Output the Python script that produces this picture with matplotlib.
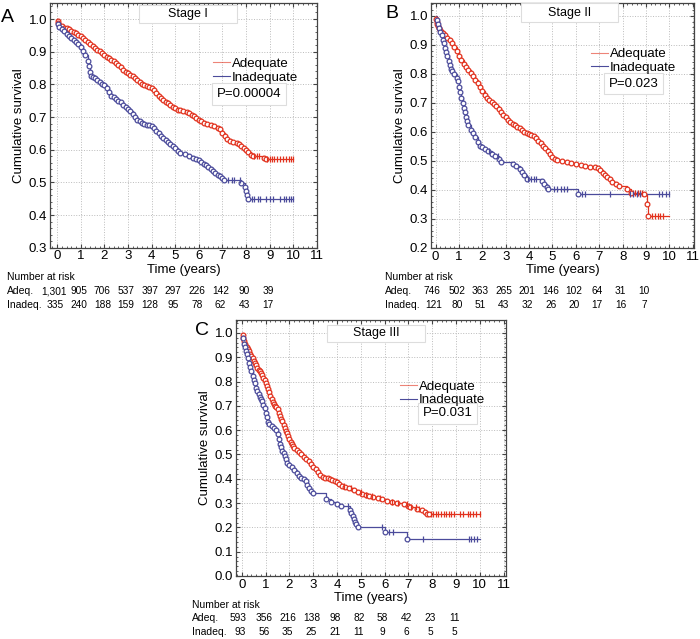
import numpy as np
import matplotlib.pyplot as plt
import matplotlib.transforms as mtransforms
from matplotlib.lines import Line2D
from matplotlib.patches import Rectangle
from matplotlib.ticker import MultipleLocator, AutoMinorLocator

plt.rcParams['font.family'] = ['Liberation Sans', 'DejaVu Sans']

RED = '#e2321e'
BLUE = '#4b4b9b'

# ---- Stage I (panel A) ----
a_adq_t = [0, 0.03, 0.06, 0.1, 0.2, 0.3, 0.4, 0.5, 0.6, 0.7, 0.8, 0.9, 1.0, 1.1, 1.2, 1.3, 1.4,
           1.5, 1.6, 1.7, 1.8, 1.9, 2.0, 2.1, 2.2, 2.3, 2.4, 2.5, 2.6, 2.7, 2.8, 2.9, 3.0, 3.1,
           3.2, 3.3, 3.4, 3.5, 3.6, 3.7, 3.8, 3.9, 4.0, 4.1, 4.2, 4.3, 4.4, 4.5, 4.6, 4.7, 4.8,
           4.9, 5.0, 5.1, 5.2, 5.35, 5.5, 5.6, 5.7, 5.8, 5.9, 6.0, 6.1, 6.2, 6.35, 6.5, 6.65,
           6.8, 6.9, 7.0, 7.1, 7.2, 7.3, 7.45, 7.6, 7.7, 7.8, 7.9, 8.0, 8.1, 8.2, 8.3, 8.75, 8.85]
a_adq_s = [1.0, 0.993, 0.987, 0.982, 0.978, 0.974, 0.971, 0.968, 0.964, 0.960, 0.956, 0.952,
           0.948, 0.943, 0.936, 0.929, 0.923, 0.917, 0.911, 0.906, 0.902, 0.896, 0.889, 0.884,
           0.880, 0.876, 0.870, 0.864, 0.858, 0.852, 0.845, 0.838, 0.834, 0.830, 0.825, 0.819,
           0.812, 0.806, 0.802, 0.798, 0.794, 0.791, 0.788, 0.782, 0.774, 0.764, 0.758, 0.752,
           0.747, 0.742, 0.736, 0.731, 0.727, 0.722, 0.720, 0.718, 0.716, 0.711, 0.706, 0.702,
           0.697, 0.692, 0.687, 0.683, 0.679, 0.676, 0.672, 0.667, 0.662, 0.652, 0.642, 0.634,
           0.628, 0.624, 0.621, 0.617, 0.612, 0.606, 0.600, 0.594, 0.585, 0.581, 0.576, 0.570]
a_adq_cens = [8.35, 8.45, 8.55, 8.9, 9.0, 9.1, 9.2, 9.3, 9.45, 9.55, 9.7, 9.8, 9.9, 10.0]
a_inadq_t = [0, 0.05, 0.1, 0.2, 0.3, 0.4, 0.5, 0.6, 0.7, 0.8, 0.9, 1.0, 1.1, 1.2, 1.3, 1.35, 1.4,
             1.45, 1.5, 1.6, 1.7, 1.8, 1.9, 2.0, 2.1, 2.2, 2.3, 2.4, 2.5, 2.6, 2.7, 2.8, 2.9,
             3.0, 3.1, 3.2, 3.3, 3.4, 3.5, 3.6, 3.7, 3.8, 3.9, 4.0, 4.1, 4.2, 4.3, 4.4, 4.5, 4.6,
             4.7, 4.8, 4.9, 5.0, 5.1, 5.2, 5.4, 5.6, 5.75, 5.9, 6.0, 6.1, 6.2, 6.3, 6.4, 6.5,
             6.6, 6.7, 6.8, 6.9, 7.0, 7.08, 7.8, 7.95, 8.0, 8.03, 8.08]
a_inadq_s = [1.0, 0.985, 0.977, 0.970, 0.962, 0.955, 0.948, 0.941, 0.935, 0.930, 0.924, 0.914,
             0.902, 0.890, 0.872, 0.855, 0.838, 0.826, 0.822, 0.818, 0.813, 0.808, 0.802, 0.797,
             0.790, 0.778, 0.765, 0.760, 0.755, 0.750, 0.745, 0.738, 0.731, 0.725, 0.718, 0.710,
             0.700, 0.692, 0.688, 0.683, 0.679, 0.677, 0.675, 0.671, 0.665, 0.658, 0.650, 0.643,
             0.636, 0.630, 0.624, 0.617, 0.610, 0.604, 0.597, 0.590, 0.587, 0.580, 0.573, 0.570,
             0.567, 0.562, 0.557, 0.552, 0.546, 0.540, 0.535, 0.530, 0.524, 0.519, 0.513, 0.507,
             0.497, 0.487, 0.475, 0.462, 0.450]
a_inadq_cens = [7.25, 7.4, 7.5, 7.75, 8.25, 8.35, 8.5, 8.6, 8.85, 9.0, 9.15, 9.45, 9.6, 9.7, 9.8,
                9.9, 10.0]
a_risk_adq = ['1,301', '905', '706', '537', '397', '297', '226', '142', '90', '39']
a_risk_inadq = ['335', '240', '188', '159', '128', '95', '78', '62', '43', '17']

# ---- Stage II (panel B) ----
b_adq_t = [0, 0.02, 0.04, 0.07, 0.1, 0.15, 0.2, 0.3, 0.4, 0.5, 0.6, 0.7, 0.8, 0.9, 1.0, 1.1, 1.2,
           1.3, 1.4, 1.5, 1.6, 1.7, 1.8, 1.9, 2.0, 2.1, 2.2, 2.3, 2.4, 2.5, 2.6, 2.7, 2.8, 2.9,
           3.0, 3.1, 3.2, 3.3, 3.4, 3.5, 3.6, 3.7, 3.8, 3.9, 4.0, 4.1, 4.2, 4.3, 4.4, 4.5, 4.6,
           4.7, 4.8, 4.9, 5.0, 5.1, 5.2, 5.4, 5.6, 5.8, 6.0, 6.2, 6.4, 6.6, 6.8, 6.95, 7.05,
           7.15, 7.25, 7.35, 7.45, 7.55, 7.7, 7.85, 8.2, 8.35, 8.9, 9.03, 9.1]
b_adq_s = [1.0, 0.99, 0.98, 0.972, 0.965, 0.957, 0.950, 0.942, 0.934, 0.925, 0.917, 0.906, 0.893,
           0.878, 0.862, 0.847, 0.835, 0.824, 0.812, 0.802, 0.792, 0.780, 0.768, 0.755, 0.740,
           0.727, 0.718, 0.710, 0.702, 0.695, 0.688, 0.678, 0.668, 0.658, 0.650, 0.641, 0.634,
           0.628, 0.622, 0.618, 0.613, 0.607, 0.601, 0.596, 0.592, 0.589, 0.585, 0.579, 0.570,
           0.560, 0.551, 0.543, 0.533, 0.523, 0.514, 0.507, 0.502, 0.500, 0.497, 0.493, 0.489,
           0.485, 0.482, 0.480, 0.478, 0.476, 0.468, 0.458, 0.450, 0.443, 0.436, 0.428, 0.420,
           0.415, 0.402, 0.390, 0.387, 0.350, 0.310]
b_adq_cens = [8.45, 8.55, 8.65, 8.75, 8.85, 9.25, 9.4, 9.5, 9.6, 9.75]
b_inadq_t = [0, 0.05, 0.1, 0.15, 0.2, 0.25, 0.3, 0.35, 0.4, 0.45, 0.5, 0.55, 0.6, 0.65, 0.7, 0.8,
             0.9, 0.95, 1.0, 1.05, 1.1, 1.15, 1.2, 1.25, 1.3, 1.35, 1.4, 1.5, 1.6, 1.7, 1.8, 1.9,
             2.0, 2.1, 2.25, 2.4, 2.55, 2.7, 2.8, 3.3, 3.45, 3.6, 3.7, 3.8, 3.9, 4.55, 4.65,
             4.75, 4.82, 6.08]
b_inadq_s = [1.0, 0.985, 0.972, 0.958, 0.945, 0.932, 0.918, 0.905, 0.890, 0.875, 0.860, 0.845,
             0.830, 0.818, 0.808, 0.798, 0.787, 0.775, 0.755, 0.738, 0.718, 0.700, 0.683, 0.668,
             0.652, 0.638, 0.625, 0.608, 0.596, 0.582, 0.565, 0.553, 0.548, 0.542, 0.535, 0.525,
             0.518, 0.505, 0.497, 0.490, 0.482, 0.473, 0.462, 0.452, 0.437, 0.431, 0.422, 0.410,
             0.402, 0.385]
b_inadq_cens = [2.3, 2.65, 3.95, 4.1, 4.2, 4.3, 5.05, 5.2, 5.35, 5.5, 5.6, 6.25, 6.4, 7.45, 8.3,
                8.45, 8.6, 8.75, 9.55, 9.7, 9.85, 10.0]
b_risk_adq = ['746', '502', '363', '265', '201', '146', '102', '64', '31', '10']
b_risk_inadq = ['121', '80', '51', '43', '32', '26', '20', '17', '16', '7']

# ---- Stage III (panel C) ----
c_adq_t = [0, 0.03, 0.06, 0.1, 0.15, 0.2, 0.25, 0.3, 0.35, 0.4, 0.45, 0.5, 0.55, 0.6, 0.65, 0.7,
           0.75, 0.8, 0.85, 0.9, 0.95, 1.0, 1.05, 1.1, 1.15, 1.2, 1.25, 1.3, 1.35, 1.4, 1.45,
           1.5, 1.55, 1.6, 1.65, 1.7, 1.75, 1.8, 1.85, 1.9, 1.95, 2.0, 2.05, 2.1, 2.15, 2.2,
           2.3, 2.4, 2.5, 2.6, 2.7, 2.8, 2.9, 3.0, 3.1, 3.2, 3.3, 3.4, 3.5, 3.6, 3.7, 3.8, 3.9,
           4.0, 4.1, 4.2, 4.35, 4.5, 4.7, 4.9, 5.05, 5.2, 5.35, 5.5, 5.7, 5.9, 6.1, 6.3, 6.5,
           6.8, 7.0, 7.05, 7.35, 7.55, 7.7, 7.8, 7.87]
c_adq_s = [1.0, 0.99, 0.978, 0.965, 0.955, 0.944, 0.934, 0.924, 0.914, 0.904, 0.895, 0.885,
           0.876, 0.866, 0.857, 0.849, 0.842, 0.835, 0.826, 0.816, 0.806, 0.794, 0.782, 0.769,
           0.756, 0.742, 0.728, 0.716, 0.708, 0.701, 0.694, 0.685, 0.672, 0.659, 0.647, 0.636,
           0.623, 0.610, 0.598, 0.587, 0.575, 0.563, 0.553, 0.544, 0.535, 0.528, 0.518, 0.509,
           0.500, 0.491, 0.483, 0.472, 0.461, 0.450, 0.440, 0.428, 0.416, 0.408, 0.404, 0.402,
           0.400, 0.396, 0.390, 0.385, 0.378, 0.370, 0.365, 0.360, 0.353, 0.345, 0.338, 0.333,
           0.329, 0.325, 0.320, 0.316, 0.310, 0.305, 0.302, 0.298, 0.289, 0.282, 0.277, 0.270,
           0.262, 0.256, 0.254]
c_adq_cens = [4.3, 4.6, 5.0, 5.2, 5.45, 5.8, 6.3, 6.55, 6.95, 7.1, 7.3, 7.45, 7.95, 8.05, 8.15,
              8.25, 8.35, 8.5, 8.6, 8.7, 8.8, 8.9, 9.15, 9.3, 9.5, 9.6, 9.7, 9.85, 10.0]
c_inadq_t = [0, 0.03, 0.07, 0.12, 0.17, 0.21, 0.26, 0.3, 0.35, 0.4, 0.45, 0.5, 0.55, 0.6, 0.65,
             0.7, 0.75, 0.8, 0.85, 0.9, 0.95, 1.0, 1.05, 1.1, 1.15, 1.25, 1.35, 1.45, 1.5, 1.55,
             1.6, 1.65, 1.7, 1.75, 1.8, 1.85, 1.9, 2.0, 2.1, 2.2, 2.3, 2.4, 2.5, 2.6, 2.7, 2.75,
             2.8, 2.9, 3.0, 3.55, 3.75, 4.0, 4.15, 4.55, 4.6, 4.65, 4.7, 4.75, 4.8, 4.87, 6.0,
             6.95]
c_inadq_s = [1.0, 0.98, 0.956, 0.94, 0.925, 0.912, 0.895, 0.878, 0.86, 0.842, 0.824, 0.808,
             0.792, 0.775, 0.760, 0.748, 0.738, 0.728, 0.718, 0.705, 0.690, 0.672, 0.653, 0.635,
             0.625, 0.618, 0.610, 0.600, 0.585, 0.565, 0.545, 0.530, 0.515, 0.505, 0.495, 0.48,
             0.465, 0.455, 0.449, 0.438, 0.425, 0.413, 0.405, 0.400, 0.392, 0.375, 0.36, 0.350,
             0.342, 0.318, 0.305, 0.295, 0.287, 0.272, 0.260, 0.248, 0.236, 0.224, 0.212, 0.202,
             0.181, 0.154]
c_inadq_cens = [4.45, 5.9, 6.2, 6.35, 7.6, 9.55, 9.65, 9.75, 9.9]
c_risk_adq = ['593', '356', '216', '138', '98', '82', '58', '42', '23', '11']
c_risk_inadq = ['93', '56', '35', '25', '21', '11', '9', '6', '5', '5']

risk_times = list(range(10))


def km(ax, t, s, cens, color, end=10.0):
    t = np.asarray(t, float)
    s = np.asarray(s, float)
    ax.step(np.append(t, end), np.append(s, s[-1]), where='post', color=color, lw=0.9, zorder=3)
    ax.plot(t[1:], s[1:], 'o', ms=3.4, mfc='white', mec=color, mew=0.9, zorder=4)
    cens = np.asarray(cens, float)
    idx = np.searchsorted(t, cens, side='right') - 1
    ax.plot(cens, s[idx], '|', ms=4.5, color=color, mew=0.9, zorder=4)


def panel(fig, rect, letter, stage, pval, lims, curves, risks, box, leg, pbox, risk_y, lab_x):
    ax = fig.add_axes(rect)
    for t, s, cens, color in curves:
        km(ax, t, s, cens, color)
    ax.set_xlim(*lims[0])
    ax.set_ylim(*lims[1])
    ax.xaxis.set_major_locator(MultipleLocator(1))
    ax.yaxis.set_major_locator(MultipleLocator(0.1))
    ax.xaxis.set_minor_locator(AutoMinorLocator(5))
    ax.yaxis.set_minor_locator(AutoMinorLocator(5))
    ax.yaxis.set_major_formatter(plt.FuncFormatter(lambda v, p: f'{v:.1f}'))
    ax.tick_params(which='both', direction='in', top=True, right=True, color='#444444')
    ax.tick_params(which='major', length=3, labelsize=9.5, pad=2)
    ax.tick_params(which='minor', length=1.5)
    ax.grid(True, ls=':', color='#bbbbbb', lw=0.7)
    for sp in ax.spines.values():
        sp.set_color('#444444')
        sp.set_linewidth(0.9)
    ax.set_xlabel('Time (years)', fontsize=9.5, labelpad=1)
    ax.set_ylabel('Cumulative survival', fontsize=9.5, labelpad=3)

    # stage title box
    ax.add_patch(Rectangle((box[0], box[2]), box[1] - box[0], box[3] - box[2], transform=ax.transAxes,
                           facecolor='white', edgecolor='#dddddd', lw=0.8, zorder=5))
    ax.text((box[0] + box[1]) / 2, (box[2] + box[3]) / 2, stage, transform=ax.transAxes,
            ha='center', va='center', fontsize=9, zorder=6)

    handles = [Line2D([], [], color=RED, lw=0.8, alpha=0.6), Line2D([], [], color=BLUE, lw=0.8)]
    lg = ax.legend(handles, ['Adequate', 'Inadequate'], loc='upper left', bbox_to_anchor=leg,
                   frameon=False, fontsize=9.5, handlelength=1.3, handletextpad=0.15,
                   labelspacing=0.1, borderpad=0, borderaxespad=0)
    lg.set_zorder(6)
    ax.text(pbox[0], pbox[1], pval, transform=ax.transAxes, ha='center', va='center', fontsize=9.5,
            bbox=dict(boxstyle='square,pad=0.35', fc='white', ec='#dddddd', lw=0.8), zorder=6)

    ax.text(lab_x[0], lab_x[1], letter, transform=ax.transAxes, fontsize=14, ha='left', va='center')

    tr = mtransforms.blended_transform_factory(ax.transData, ax.transAxes)
    ax.text(lab_x[2], risk_y[0], 'Number at risk', transform=ax.transAxes, fontsize=7.5,
            ha='left', va='center')
    ax.text(lab_x[2], risk_y[1], 'Adeq.', transform=ax.transAxes, fontsize=7.5, ha='left', va='center')
    ax.text(lab_x[2], risk_y[2], 'Inadeq.', transform=ax.transAxes, fontsize=7.5, ha='left', va='center')
    for x, r1, r2 in zip(risk_times, risks[0], risks[1]):
        x1 = x - 0.15 if x == 0 else x - 0.08
        ax.text(x1, risk_y[1], r1, transform=tr, fontsize=7.3, ha='center', va='center')
        ax.text(x - 0.08, risk_y[2], r2, transform=tr, fontsize=7.3, ha='center', va='center')
    return ax


fig = plt.figure(figsize=(7.0, 6.39), dpi=100)

panel(fig, [0.0714, 0.6124, 0.3814, 0.3834], 'A', 'Stage I', 'P=0.00004',
      ((-0.3, 11.0), (0.3, 1.05)),
      [(a_adq_t, a_adq_s, a_adq_cens, RED), (a_inadq_t, a_inadq_s, a_inadq_cens, BLUE)],
      (a_risk_adq, a_risk_inadq),
      (0.333, 0.70, 0.917, 0.99), (0.61, 0.775), (0.745, 0.627),
      (-0.12, -0.177, -0.234), (-0.185, 0.94, -0.161))

panel(fig, [0.6157, 0.6119, 0.3755, 0.3839], 'B', 'Stage II', 'P=0.023',
      ((-0.2, 11.05), (0.2, 1.045)),
      [(b_adq_t, b_adq_s, b_adq_cens, RED), (b_inadq_t, b_inadq_s, b_inadq_cens, BLUE)],
      (b_risk_adq, b_risk_inadq),
      (0.342, 0.71, 0.922, 0.997), (0.608, 0.815), (0.77, 0.67),
      (-0.118, -0.176, -0.233), (-0.175, 0.957, -0.175))

panel(fig, [0.3371, 0.0986, 0.3857, 0.4006], 'C', 'Stage III', 'P=0.031',
      ((-0.25, 11.1), (0.0, 1.053)),
      [(c_adq_t, c_adq_s, c_adq_cens, RED), (c_inadq_t, c_inadq_s, c_inadq_cens, BLUE)],
      (c_risk_adq, c_risk_inadq),
      (0.336, 0.70, 0.915, 0.98), (0.607, 0.763), (0.785, 0.635),
      (-0.113, -0.164, -0.219), (-0.15, 0.96, -0.163))

fig.savefig('out.png', dpi=100)
